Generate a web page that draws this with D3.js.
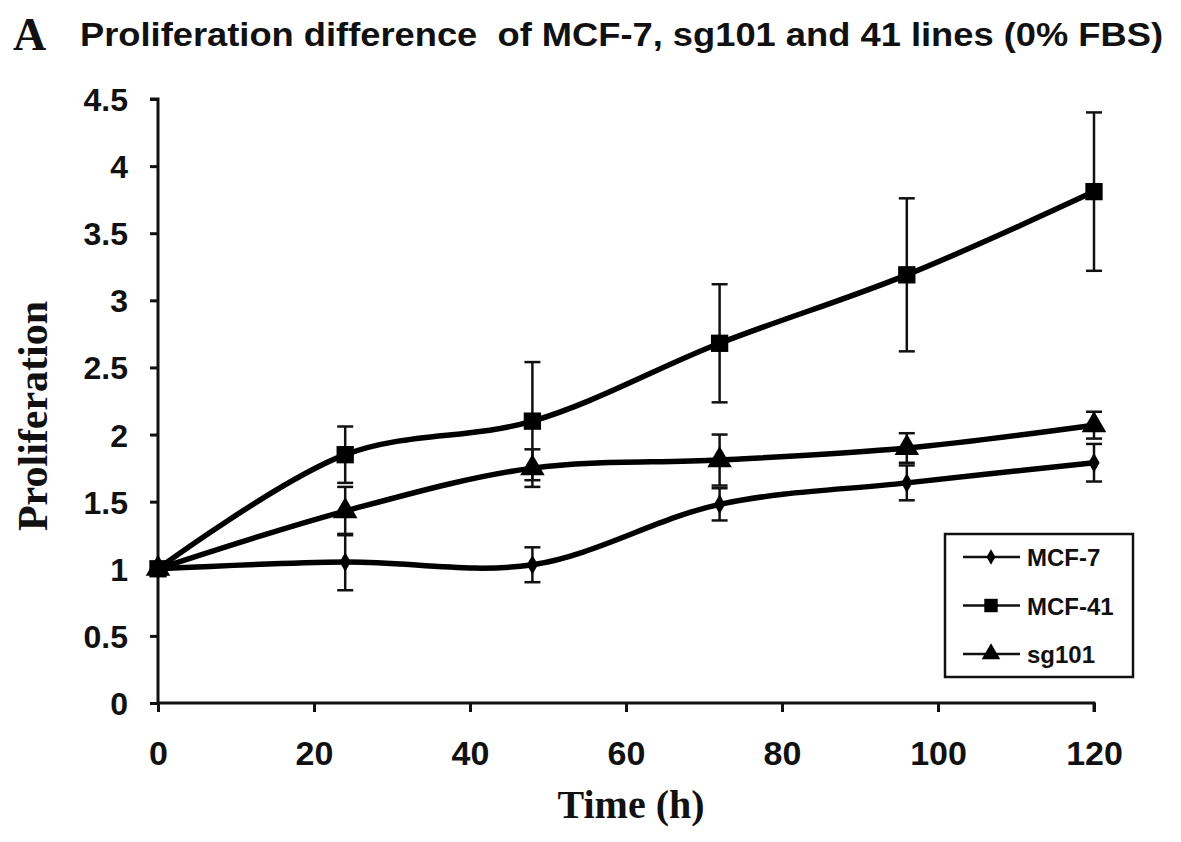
<!DOCTYPE html>
<html>
<head>
<meta charset="utf-8">
<script src="https://cdn.jsdelivr.net/npm/d3@7/dist/d3.min.js"></script>
<style>
  html, body { margin: 0; padding: 0; background: #fff; }
  svg { display: block; }
</style>
</head>
<body>
<svg id="chart" width="1181" height="842"></svg>
<script>
// ---- data ----
const times = [0, 24, 48, 72, 96, 120];
const seriesNames = ["MCF-7", "MCF-41", "sg101"];
const mcf7 = [1.00, 1.05, 1.03, 1.48, 1.64, 1.79];
const mcf7Err = [0, 0.21, 0.13, 0.12, 0.13, 0.14];
const mcf41 = [1.00, 1.85, 2.10, 2.68, 3.19, 3.81];
const mcf41Err = [0, 0.21, 0.44, 0.44, 0.57, 0.59];
const sg101 = [1.00, 1.43, 1.75, 1.81, 1.90, 2.07];
const sg101Err = [0, 0.18, 0.14, 0.19, 0.11, 0.10];
const xTicks = [0, 20, 40, 60, 80, 100, 120];
const yTicks = [0, 0.5, 1, 1.5, 2, 2.5, 3, 3.5, 4, 4.5];
const titleText = "Proliferation difference  of MCF-7, sg101 and 41 lines (0% FBS)";
const panelLabel = "A";
const xLabel = "Time (h)";
const yLabel = "Proliferation";

// ---- layout ----
const svg = d3.select("#chart");
const pLeft = 158, pRight = 1094, pTop = 99, pBottom = 703;
const x = d3.scaleLinear().domain([0, 120]).range([pLeft, pRight]);
const y = d3.scaleLinear().domain([0, 4.5]).range([pBottom, pTop]);
const sans = "'Liberation Sans', Arial, sans-serif";
const serif = "'Liberation Serif', 'Times New Roman', serif";

// title
svg.append("text").attr("x", 13).attr("y", 50)
  .attr("font-family", serif).attr("font-weight", "bold").attr("font-size", 46)
  .attr("fill", "#111").text(panelLabel);
svg.append("text").attr("x", 80).attr("y", 46)
  .style("white-space", "pre")
  .attr("font-family", sans).attr("font-weight", "bold").attr("font-size", 34)
  .attr("textLength", 1083).attr("lengthAdjust", "spacingAndGlyphs")
  .attr("fill", "#111").text(titleText);

// axes
const yAxis = svg.append("g").attr("transform", `translate(${pLeft},0)`)
  .call(d3.axisLeft(y).tickValues(yTicks).tickSize(8).tickPadding(22).tickFormat(d3.format("~g")));
const xAxis = svg.append("g").attr("transform", `translate(0,${pBottom})`)
  .call(d3.axisBottom(x).tickValues(xTicks).tickSize(9).tickPadding(29).tickFormat(d3.format("~g")));
[yAxis, xAxis].forEach(g => {
  g.select(".domain").attr("stroke", "#111").attr("stroke-width", 3);
  g.selectAll(".tick line").attr("stroke", "#111").attr("stroke-width", 3);
  g.selectAll(".tick text").attr("fill", "#111").attr("font-family", sans).attr("font-weight", "bold");
});
yAxis.select(".domain").attr("d", `M-8,${pTop}H0V${pBottom}`);
xAxis.select(".domain").attr("d", `M${pLeft},0H${pRight}V9`);
yAxis.selectAll(".tick text").attr("font-size", 32).attr("dy", "0.36em");
xAxis.selectAll(".tick text").attr("font-size", 34);

// axis titles
svg.append("text").attr("x", 631).attr("y", 818).attr("text-anchor", "middle")
  .attr("font-family", serif).attr("font-weight", "bold").attr("font-size", 40)
  .attr("fill", "#111").text(xLabel);
svg.append("text").attr("transform", "translate(47,416) rotate(-90)").attr("text-anchor", "middle")
  .attr("font-family", serif).attr("font-weight", "bold").attr("font-size", 42)
  .attr("fill", "#111").text(yLabel);

// series
const series = [
  { name: seriesNames[0], vals: mcf7, err: mcf7Err, sym: d3.symbolDiamond, size: 110, lsize: 70 },
  { name: seriesNames[1], vals: mcf41, err: mcf41Err, sym: d3.symbolSquare, size: 300, lsize: 180 },
  { name: seriesNames[2], vals: sg101, err: sg101Err, sym: d3.symbolTriangle, size: 260, lsize: 150 }
];
const line = d3.line().x(d => x(d.t)).y(d => y(d.v)).curve(d3.curveCatmullRom.alpha(0.5));

series.forEach(s => {
  const pts = times.map((t, i) => ({ t, v: s.vals[i], e: s.err[i] }));
  const g = svg.append("g");
  pts.filter(p => p.e > 0).forEach(p => {
    g.append("line").attr("x1", x(p.t)).attr("x2", x(p.t))
      .attr("y1", y(p.v + p.e)).attr("y2", y(p.v - p.e))
      .attr("stroke", "#111").attr("stroke-width", 2.5);
    [p.v + p.e, p.v - p.e].forEach(v => {
      g.append("line").attr("x1", x(p.t) - 8).attr("x2", x(p.t) + 8)
        .attr("y1", y(v)).attr("y2", y(v))
        .attr("stroke", "#111").attr("stroke-width", 2.5);
    });
  });
  g.append("path").datum(pts).attr("d", line)
    .attr("fill", "none").attr("stroke", "#000").attr("stroke-width", 5.5);
  g.selectAll(".m").data(pts).join("path")
    .attr("transform", p => `translate(${x(p.t)},${y(p.v)})`)
    .attr("d", d3.symbol().type(s.sym).size(s.size))
    .attr("fill", "#000");
});

// legend
const lg = svg.append("g");
lg.append("rect").attr("x", 945).attr("y", 534).attr("width", 188).attr("height", 143)
  .attr("fill", "#fff").attr("stroke", "#111").attr("stroke-width", 2.5);
series.forEach((s, i) => {
  const cy = 557 + i * 48.5;
  lg.append("line").attr("x1", 963).attr("x2", 1020).attr("y1", cy).attr("y2", cy)
    .attr("stroke", "#111").attr("stroke-width", 2.5);
  lg.append("path").attr("transform", `translate(991,${cy})`)
    .attr("d", d3.symbol().type(s.sym).size(s.lsize)).attr("fill", "#000");
  lg.append("text").attr("x", 1027).attr("y", cy + 9)
    .attr("font-family", sans).attr("font-weight", "bold").attr("font-size", 24)
    .attr("fill", "#111").text(s.name);
});
</script>
</body>
</html>
